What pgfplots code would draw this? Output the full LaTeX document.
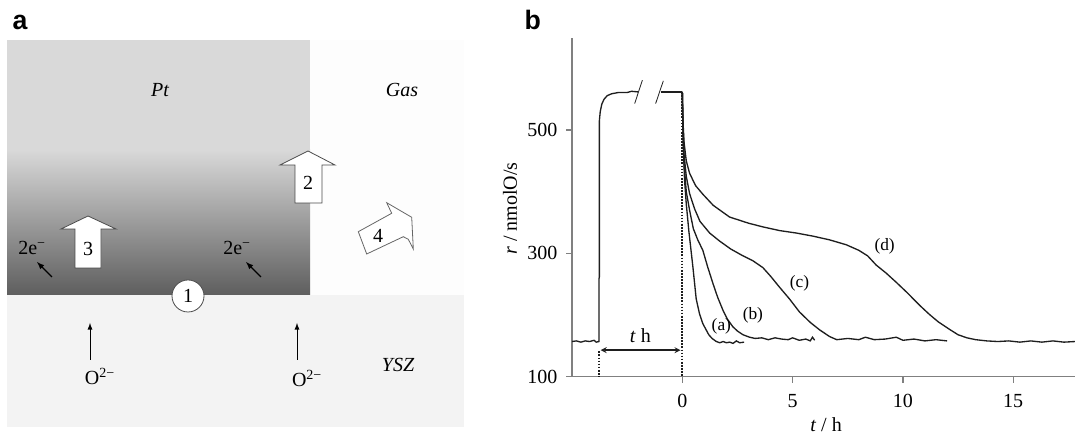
\documentclass[border=0pt]{standalone}
\usepackage{fontspec}
\setmainfont{Liberation Serif}
\newfontfamily\panelfont{Liberation Sans}
\usepackage{pgfplots}
\pgfplotsset{compat=1.18}
\definecolor{axgray}{HTML}{808080}
\definecolor{ptlight}{HTML}{D9D9D9}
\definecolor{ptdark}{HTML}{5E5E5E}
\definecolor{yszfill}{HTML}{F3F3F3}
\definecolor{gasfill}{HTML}{FDFDFD}
\definecolor{curve}{HTML}{1E1E1E}
\newcommand{\lbl}{\fontsize{15}{18}\selectfont}
\newcommand{\crvlbl}{\fontsize{13}{15}\selectfont}

\begin{document}
\begin{tikzpicture}
\useasboundingbox (0,0) rectangle (806.25pt,325.5pt);

% ---- panel a: schematic, in pixel units (y counted up from the bottom)
\begin{scope}[x=0.75pt,y=0.75pt]
\node[anchor=base west,font=\panelfont\bfseries\fontsize{20}{22}\selectfont] at (8,404) {a};
\fill[yszfill] (7,7) rectangle (464,139);
\fill[gasfill] (310,139) rectangle (464,394);
\fill[ptlight] (7,284) rectangle (310,394);
\shade[top color=ptlight,bottom color=ptdark] (7,139) rectangle (310,284.5);
\node[font=\lbl\itshape] at (160,344) {Pt};
\node[font=\lbl\itshape] at (402,344) {Gas};
\node[font=\lbl\itshape] at (398,69) {YSZ};
% block arrows
\draw[fill=white,draw=black!70,line width=0.6pt]
  (295,231) -- (322,231) -- (322,269) -- (335,269) -- (308,283) -- (280,269) -- (295,269) -- cycle;
\node[font=\lbl] at (308,251) {2};
\draw[fill=white,draw=black!70,line width=0.6pt]
  (75,166) -- (101,166) -- (101,205) -- (116,205) -- (88,218) -- (61,205) -- (75,205) -- cycle;
\node[font=\lbl] at (88,185) {3};
\draw[fill=white,draw=black!60,line width=0.6pt]
  (366.7,180) -- (403.3,197.3) -- (408.3,194.7) -- (413.3,185) -- (411.7,216.7)
  -- (386.7,231.3) -- (391.7,220.7) -- (358.3,202.3) -- cycle;
\node[font=\lbl] at (378,198) {4};
% interface site
\draw[fill=white,draw=black!70,line width=0.6pt] (188,138) circle (16);
\node[font=\lbl] at (188,138) {1};
% electrons and oxide ions
\node[font=\lbl] at (32,186) {2e\textsuperscript{−}};
\node[font=\lbl] at (237,186) {2e\textsuperscript{−}};
\draw[-latex,line width=0.9pt] (52,157) -- (37,172);
\draw[-latex,line width=0.9pt] (261,157) -- (246,172);
\node[font=\lbl] at (100,58) {O\textsuperscript{2−}};
\node[font=\lbl] at (307,56) {O\textsuperscript{2−}};
\draw[-latex,line width=0.7pt] (90,74) -- (90,111);
\draw[-latex,line width=0.7pt] (297,74) -- (297,111);
\node[anchor=base west,font=\panelfont\bfseries\fontsize{20}{22}\selectfont] at (520,404) {b};
\end{scope}

% ---- panel b: transient rate
\begin{axis}[at={(429pt,43pt)},anchor=south west,
  scale only axis,width=377.25pt,height=254.25pt,
  xmin=-5,xmax=17.8,ymin=100,ymax=650,
  axis lines=left,axis line style={axgray,line width=1.1pt,-},
  xtick={0,5,10,15},ytick={100,300,500},
  tick align=outside,major tick length=4.5pt,
  tick style={axgray,line width=1.1pt},
  ticklabel style={font=\lbl},
  /pgf/number format/assume math mode=true,
  xticklabel style={yshift=-5pt},
  yticklabel style={xshift=-3pt},
  xlabel={\textit{t} / h},ylabel={\textit{r} / nmolO/s},
  label style={font=\lbl},
  xlabel style={at={(axis description cs:0.505,-0.142)},anchor=center},
  ylabel style={at={(axis description cs:-0.123,0.496)},anchor=center},
  clip=false]
% run-up under anodic current
\addplot[curve,line width=1pt] coordinates {(-5,157)(-4.8,158)(-4.6,156)(-4.4,158)(-4.2,157)(-4.0,159)(-3.9,156)(-3.78,157)(-3.78,258)(-3.76,262)(-3.76,515)(-3.72,530)(-3.65,542)(-3.55,550)(-3.4,556)(-3.2,559)(-2.9,561)(-2.5,561)(-2.3,563)(-2.01,562)};
\addplot[curve,line width=1pt] coordinates {(-0.95,562)(0,562)};
% relaxations (a)-(d)
\addplot[curve,line width=1pt] coordinates {(0,562)(0.02,520)(0.05,470)(0.1,420)(0.18,380)(0.3,335)(0.48,278)(0.63,226)(0.78,202)(0.93,186)(1.05,178)(1.2,168)(1.35,162)(1.54,157)(1.7,155)(1.85,157)(2.0,155)(2.15,156)(2.3,154)(2.45,158)(2.6,155)(2.8,156)};
\addplot[curve,line width=1pt] coordinates {(0,562)(0.03,500)(0.08,445)(0.18,400)(0.33,370)(0.5,340)(0.7,322)(0.93,305)(1.15,278)(1.39,251)(1.6,229)(1.84,208)(2.05,193)(2.29,181)(2.5,174)(2.75,168)(3.05,164)(3.3,162)(3.6,163)(3.9,160)(4.2,163)(4.5,161)(4.8,160)(5.0,163)(5.3,159)(5.6,161)(5.8,158)(5.9,164)(6.0,159)};
\addplot[curve,line width=1pt] coordinates {(0,562)(0.03,510)(0.08,460)(0.18,425)(0.33,397)(0.56,372)(0.8,352)(1.24,333)(1.69,320)(2.2,307)(2.7,297)(3.2,288)(3.65,277)(4.0,263)(4.41,245)(4.86,226)(5.31,205)(5.8,188)(6.22,176)(6.68,165)(7.0,160)(7.5,162)(8.0,160)(8.3,164)(8.7,160)(9.2,161)(9.7,164)(10.0,159)(10.5,161)(11.0,158)(11.5,160)(12.0,158)};
\addplot[curve,line width=1pt] coordinates {(0,562)(0.03,515)(0.08,480)(0.18,450)(0.33,430)(0.6,410)(0.93,396)(1.4,378)(2.14,359)(3.0,349)(3.65,343)(4.41,337)(5.17,333)(5.92,328)(6.67,322)(7.43,314)(8.0,305)(8.4,296)(8.79,281)(9.24,268)(9.7,253)(10.2,236)(10.75,216)(11.2,201)(11.6,189)(12.1,177)(12.5,168)(12.9,163)(13.3,160)(13.8,158)(14.3,157)(14.8,158)(15.3,156)(15.8,158)(16.3,156)(16.8,158)(17.3,156)(17.8,157)};
% dotted markers of switching times
\addplot[curve,densely dotted,line width=1.3pt] coordinates {(0,562)(0,100)};
\addplot[curve,densely dotted,line width=1.3pt] coordinates {(-3.78,141)(-3.78,100)};
\draw[curve,line width=1pt,<->,>=stealth] (axis cs:-3.7,143) -- (axis cs:-0.08,143);
\node[font=\lbl] at (axis cs:-1.9,166) {\textit{t} h};
% axis break
\draw[curve,line width=0.6pt] (axis cs:-2.16,543) -- (axis cs:-1.81,581);
\draw[curve,line width=0.6pt] (axis cs:-1.21,543) -- (axis cs:-0.86,580);
\node[font=\crvlbl] at (axis cs:1.77,181) {(a)};
\node[font=\crvlbl] at (axis cs:3.2,200) {(b)};
\node[font=\crvlbl] at (axis cs:5.31,251) {(c)};
\node[font=\crvlbl] at (axis cs:9.17,311) {(d)};
\end{axis}
\end{tikzpicture}
\end{document}
